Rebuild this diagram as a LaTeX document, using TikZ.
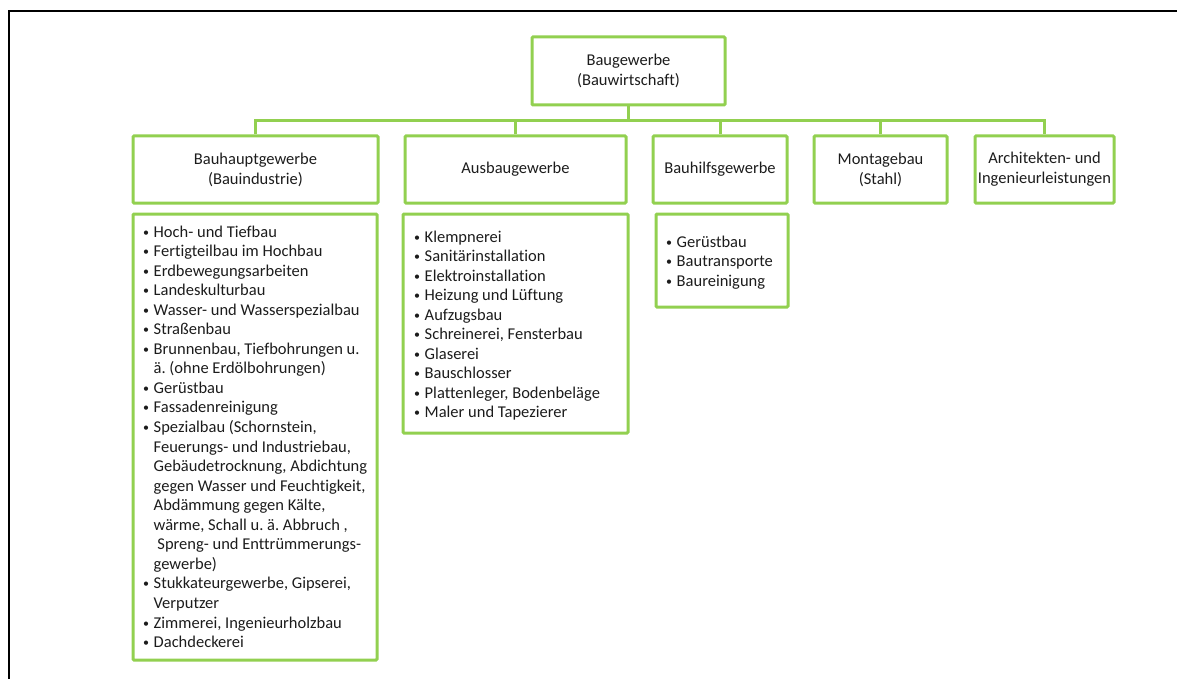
\documentclass[tikz,border=0pt]{standalone}
\usepackage{fontspec}
\setmainfont{Carlito}[Ligatures={NoCommon}]
\definecolor{grn}{RGB}{146,208,80}
\definecolor{txt}{RGB}{28,28,28}
\newcommand\bu{\raisebox{1pt}{\fontsize{12}{12}\selectfont•}}
\frenchspacing
\begin{document}
\begin{tikzpicture}[x=1pt,y=-1pt,
  box/.style={draw=grn,line width=3pt,rounded corners=1pt,inner sep=0pt,align=center,text=txt,font=\fontsize{16.5}{20}\selectfont},
  conn/.style={draw=grn,line width=3pt},
  lst/.style={inner sep=0pt,anchor=base west,text=txt,font=\fontsize{16.5}{19.55}\selectfont}]
\useasboundingbox (0,0) rectangle (1177,679);
\draw[line width=2pt] (8.5,679) -- (8.5,11) -- (1177,11);
% top
\node[box,minimum width=193pt,minimum height=68pt] (top) at (628.5,71) {Baugewerbe\\(Bauwirtschaft)};
% level 2
\node[box,minimum width=245pt,minimum height=67pt] (h1) at (255.5,169.5) {Bauhauptgewerbe\\(Bauindustrie)};
\node[box,minimum width=221pt,minimum height=67pt] (h2) at (515.5,169.5) {Ausbaugewerbe};
\node[box,minimum width=134pt,minimum height=67pt] (h3) at (720,169.5) {Bauhilfsgewerbe};
\node[box,minimum width=133pt,minimum height=67pt] (h4) at (880.5,169.5) {Montagebau\\(Stahl)};
\node[box,minimum width=139pt,minimum height=67pt] (h5) at (1044.5,169.5) {Architekten- und\\Ingenieurleistungen};
% connectors
\coordinate (bar) at (0,121);
\draw[conn] (top.south) -- (top.south |- bar);
\draw[conn] (h1.north) -- (h1.north |- bar) -- (h5.north |- bar) -- (h5.north);
\draw[conn] (h2.north) -- (h2.north |- bar);
\draw[conn] (h3.north) -- (h3.north |- bar);
\draw[conn] (h4.north) -- (h4.north |- bar);
% level 3 boxes
\node[box,minimum width=244pt,minimum height=446pt] (l1) at (255,437) {};
\node[box,minimum width=225pt,minimum height=219pt] (l2) at (515.5,323.5) {};
\node[box,minimum width=132pt,minimum height=93pt] (l3) at (722,260.5) {};
% lists
\node[lst] (t1) at (143,237) {\begin{tabular}[t]{@{}p{10.5pt}@{}l@{}}
\bu & Hoch- und Tiefbau\\
\bu & Fertigteilbau im Hochbau\\
\bu & Erdbewegungsarbeiten\\
\bu & Landeskulturbau\\
\bu & Wasser- und Wasserspezialbau\\
\bu & Straßenbau\\
\bu & Brunnenbau, Tiefbohrungen u.\\
    & ä. (ohne Erdölbohrungen)\\
\bu & Gerüstbau\\
\bu & Fassadenreinigung\\
\bu & Spezialbau (Schornstein,\\
    & Feuerungs- und Industriebau,\\
    & Gebäudetrocknung, Abdichtung\\
    & gegen Wasser und Feuchtigkeit,\\
    & Abdämmung gegen Kälte,\\
    & wärme, Schall u. ä. Abbruch ,\\
    & \ Spreng- und Enttrümmerungs-\\
    & gewerbe)\\
\bu & Stukkateurgewerbe, Gipserei,\\
    & Verputzer\\
\bu & Zimmerei, Ingenieurholzbau\\
\bu & Dachdeckerei
\end{tabular}};
\node[lst] (t2) at (414,242) {\begin{tabular}[t]{@{}p{10.5pt}@{}l@{}}
\bu & Klempnerei\\
\bu & Sanitärinstallation\\
\bu & Elektroinstallation\\
\bu & Heizung und Lüftung\\
\bu & Aufzugsbau\\
\bu & Schreinerei, Fensterbau\\
\bu & Glaserei\\
\bu & Bauschlosser\\
\bu & Plattenleger, Bodenbeläge\\
\bu & Maler und Tapezierer
\end{tabular}};
\node[lst] (t3) at (666,247) {\begin{tabular}[t]{@{}p{10.5pt}@{}l@{}}
\bu & Gerüstbau\\
\bu & Bautransporte\\
\bu & Baureinigung
\end{tabular}};
\end{tikzpicture}
\end{document}
